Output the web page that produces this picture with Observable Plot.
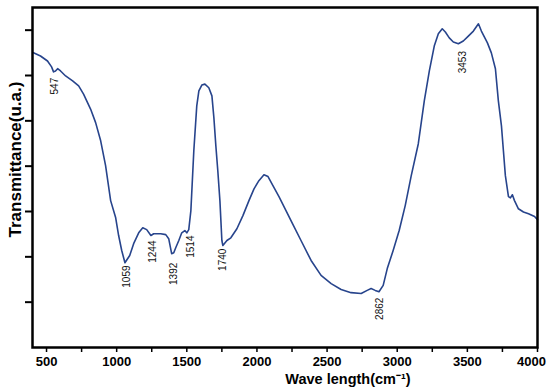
<!DOCTYPE html>
<html><head><meta charset="utf-8">
<script src="https://cdn.jsdelivr.net/npm/d3@7"></script>
<script src="https://cdn.jsdelivr.net/npm/@observablehq/plot@0.6"></script>
<style>body{margin:0;background:#fff}</style>
</head><body><div id="chart"></div>
<script>
const wavenumber = [407,457,507,536,550,564,579,600,636,686,729,764,814,850,886,921,957,993,1014,1036,1059,1093,1121,1157,1186,1214,1244,1264,1314,1350,1371,1392,1407,1421,1443,1464,1486,1500,1514,1529,1550,1571,1586,1607,1629,1657,1679,1693,1707,1721,1736,1750,1757,1786,1814,1857,1900,1943,1979,2014,2050,2079,2114,2157,2207,2257,2314,2386,2457,2529,2600,2671,2743,2786,2814,2843,2870,2900,2929,2971,3014,3057,3100,3150,3193,3229,3264,3293,3321,3343,3371,3400,3436,3471,3507,3543,3579,3600,3621,3643,3671,3700,3721,3743,3757,3771,3793,3807,3821,3836,3864,3900,3936,3979,4000];
const transmittance = [6.50,6.43,6.32,6.19,6.08,6.10,6.15,6.10,5.99,5.88,5.77,5.59,5.26,4.96,4.56,4.01,3.24,2.86,2.47,2.14,1.87,2.03,2.29,2.53,2.64,2.60,2.47,2.51,2.51,2.49,2.40,2.07,2.09,2.20,2.36,2.53,2.58,2.53,2.60,3.02,4.34,5.33,5.66,5.79,5.81,5.73,5.55,5.07,4.45,3.90,3.24,2.36,2.25,2.36,2.42,2.62,2.91,3.24,3.50,3.68,3.81,3.77,3.57,3.33,3.02,2.71,2.36,1.92,1.59,1.41,1.28,1.21,1.19,1.26,1.30,1.26,1.23,1.37,1.74,2.14,2.58,3.13,3.79,4.49,5.44,6.10,6.65,6.92,7.03,6.96,6.83,6.74,6.70,6.76,6.87,6.98,7.14,6.98,6.85,6.72,6.50,6.15,5.44,4.89,4.34,3.79,3.33,3.30,3.37,3.24,3.06,2.99,2.95,2.89,2.82];

const peakLabels = ["547","1059","1244","1392","1514","1740","2862","3453"];
const peakWavenumber = [547,1059,1244,1392,1514,1740,2862,3453];
const peakLabelTop = [5.95,1.81,2.36,1.87,2.47,2.18,1.10,6.54];

const xTicks = [500,1000,1500,2000,2500,3000,3500,4000];
const xMinorTicks = [750,1250,1750,2250,2750,3250,3750];
const yTicks = [1,2,3,4,5,6,7];

const spectrum = wavenumber.map((w, i) => ({w, t: transmittance[i]}));
const peaks = peakLabels.map((label, i) => ({label, x: peakWavenumber[i], y: peakLabelTop[i]}));
const tickLabelStyle = {x: d => d, text: d => String(d), frameAnchor: "bottom", textAnchor: "middle", lineAnchor: "middle",
  dy: 14, fontSize: 13, fontWeight: "bold", fill: "black"};

const chart = Plot.plot({
  width: 550, height: 390,
  marginLeft: 32, marginRight: 13, marginTop: 7, marginBottom: 43,
  style: {fontFamily: "'Liberation Sans', Arial, sans-serif", background: "white", color: "black"},
  x: {domain: [400, 4000]},
  y: {domain: [0, 7.5]},
  marks: [
    Plot.line(spectrum, {x: "w", y: "t", stroke: "#27448c", strokeWidth: 1.6}),
    Plot.text(peaks, {x: "x", y: "y", text: "label", rotate: -90, textAnchor: "end", dx: 2, fontSize: 10, fill: "#111"}),
    Plot.axisX({ticks: xTicks.concat(xMinorTicks), tickSize: 5, text: null, label: null, strokeWidth: 1.5}),
    Plot.text(xTicks.slice(0, -1), tickLabelStyle),
    Plot.text(xTicks.slice(-1), {...tickLabelStyle, dx: -6}),
    Plot.axisY({ticks: yTicks, tickSize: 7, text: null, label: null, strokeWidth: 2}),
    Plot.frame({stroke: "black", strokeWidth: 2.5}),
    Plot.text(["Transmittance(u.a.)"], {text: d => d, frameAnchor: "left", textAnchor: "middle", lineAnchor: "middle", rotate: -90, dx: -17, dy: -18, fontSize: 17, fontWeight: "bold", fill: "black"}),
    Plot.text(["Wave length(cm⁻¹)"], {text: d => d, frameAnchor: "bottom", textAnchor: "middle", lineAnchor: "middle", dx: 63, dy: 32, fontSize: 14.5, fontWeight: "bold", fill: "black"})
  ]
});
document.getElementById("chart").appendChild(chart);
</script>
</body></html>
